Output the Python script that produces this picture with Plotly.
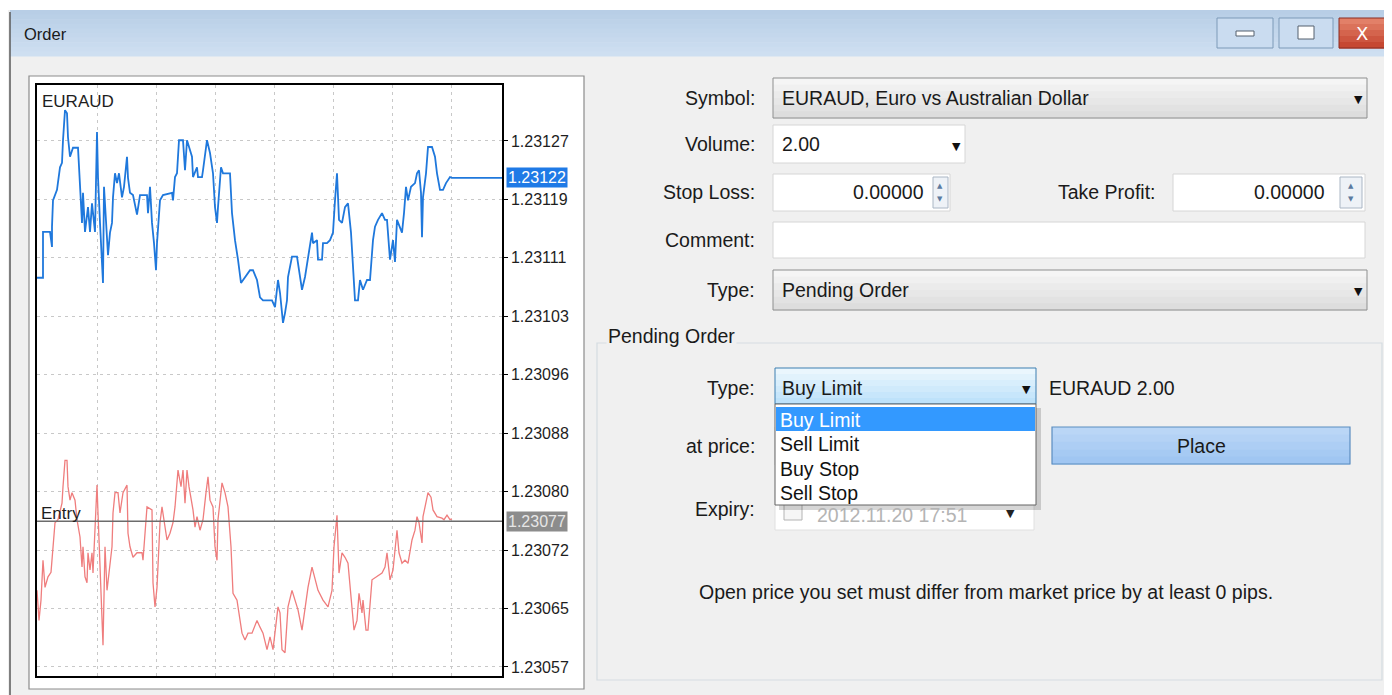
import numpy as np
import plotly.graph_objects as go

# the page adds an 8 px body margin; coordinates below are window pixels shifted by it
PAGE_W, PAGE_H = 1392, 695
OFF = 8
W, H = PAGE_W - OFF, PAGE_H - OFF
FONT = "Liberation Sans, Arial, sans-serif"
SYM = "DejaVu Sans"
FS = 19.5

# ---------------- data ----------------
symbol = "EURAUD"
bid_index = [0, 6, 6, 13, 15, 15, 16, 20, 23, 25, 26, 28, 30, 31, 33, 36, 41, 43, 45, 46,
             48, 51, 53, 55, 58, 60, 61, 63, 65, 66, 67, 70, 71, 73, 75, 76, 78, 80, 82, 85,
             87, 90, 91, 93, 96, 100, 103, 110, 111, 113, 115, 117, 119, 120, 123, 126, 135, 136, 138, 140,
             142, 146, 148, 150, 153, 155, 156, 160, 161, 165, 166, 170, 173, 176, 178, 180, 181, 184, 186, 193,
             195, 198, 201, 204, 213, 216, 220, 223, 226, 235, 238, 241, 243, 246, 248, 250, 251, 255, 260, 263,
             265, 268, 271, 275, 276, 280, 281, 285, 286, 290, 293, 296, 298, 300, 302, 305, 308, 311, 314, 316,
             318, 321, 323, 326, 330, 333, 336, 338, 341, 345, 348, 350, 353, 356, 358, 360, 363, 365, 367, 369,
             371, 374, 378, 380, 382, 384, 385, 386, 389, 391, 395, 398, 400, 403, 406, 409, 413, 415]
bid = [1.231088, 1.231088, 1.231149, 1.231149, 1.231129, 1.231156, 1.231191, 1.231205, 1.231235, 1.231241,
       1.231271, 1.231311, 1.231307, 1.231275, 1.231249, 1.231261, 1.231261, 1.231209, 1.231161, 1.231201,
       1.231149, 1.231182, 1.231149, 1.231187, 1.231149, 1.231282, 1.231222, 1.231161, 1.231109, 1.231081,
       1.231209, 1.231148, 1.231118, 1.231148, 1.231161, 1.231195, 1.231227, 1.231214, 1.231227, 1.231195,
       1.231209, 1.231249, 1.231221, 1.231201, 1.231198, 1.231172, 1.231198, 1.231198, 1.231174, 1.231209,
       1.231161, 1.231134, 1.231098, 1.231134, 1.231191, 1.231198, 1.231201, 1.231191, 1.231222, 1.231227,
       1.231271, 1.231271, 1.231231, 1.231271, 1.231258, 1.231249, 1.231222, 1.231235, 1.231222, 1.231222,
       1.231231, 1.231271, 1.231254, 1.231227, 1.231182, 1.231161, 1.231182, 1.231235, 1.231227, 1.231227,
       1.231174, 1.231138, 1.231112, 1.231081, 1.231098, 1.231098, 1.231085, 1.231062, 1.231058, 1.231058,
       1.231049, 1.231085, 1.231068, 1.231028, 1.231041, 1.231058, 1.231089, 1.231116, 1.231116, 1.231085,
       1.231072, 1.231089, 1.231116, 1.231148, 1.231134, 1.231138, 1.231112, 1.231112, 1.231134, 1.231134,
       1.231138, 1.231148, 1.231191, 1.231227, 1.231165, 1.231161, 1.231182, 1.231187, 1.231148, 1.231108,
       1.231058, 1.231058, 1.231085, 1.231072, 1.231085, 1.231085, 1.231138, 1.231156, 1.231165, 1.231174,
       1.231165, 1.231165, 1.231112, 1.231138, 1.231109, 1.231165, 1.231156, 1.231148, 1.231174, 1.231209,
       1.231191, 1.231209, 1.231214, 1.231227, 1.231231, 1.231201, 1.231142, 1.231195, 1.231227, 1.231262,
       1.231262, 1.231249, 1.231227, 1.231205, 1.231205, 1.231214, 1.231222, 1.231221]
ask_index = [0, 2, 4, 6, 8, 11, 14, 16, 18, 21, 25, 26, 28, 30, 31, 33, 35, 38, 40, 43,
             45, 46, 48, 50, 51, 53, 55, 56, 58, 60, 61, 63, 65, 66, 68, 70, 72, 75, 76, 78,
             81, 83, 86, 90, 91, 93, 96, 100, 105, 106, 110, 115, 116, 118, 120, 123, 125, 127, 130, 133,
             136, 138, 141, 144, 146, 148, 150, 152, 156, 158, 160, 163, 166, 169, 171, 173, 176, 178, 180, 181,
             185, 188, 191, 194, 196, 200, 202, 205, 208, 211, 215, 220, 223, 226, 230, 233, 236, 240, 241, 243,
             245, 248, 251, 255, 258, 261, 265, 268, 271, 275, 278, 281, 286, 291, 295, 297, 300, 302, 305, 308,
             311, 315, 317, 320, 322, 325, 326, 329, 331, 335, 340, 345, 348, 350, 353, 356, 360, 362, 365, 368,
             371, 375, 378, 380, 382, 385, 386, 389, 391, 394, 396, 400, 405, 407, 410, 413, 415]
ask = [1.230672, 1.230632, 1.230659, 1.230712, 1.230676, 1.230690, 1.230696, 1.230730, 1.230762, 1.230766,
       1.230788, 1.230810, 1.230845, 1.230845, 1.230810, 1.230792, 1.230802, 1.230792, 1.230766, 1.230743,
       1.230703, 1.230730, 1.230690, 1.230682, 1.230722, 1.230699, 1.230722, 1.230695, 1.230752, 1.230812,
       1.230775, 1.230712, 1.230642, 1.230599, 1.230730, 1.230672, 1.230695, 1.230730, 1.230775, 1.230802,
       1.230802, 1.230775, 1.230802, 1.230812, 1.230748, 1.230730, 1.230716, 1.230722, 1.230722, 1.230712,
       1.230783, 1.230779, 1.230682, 1.230650, 1.230676, 1.230762, 1.230783, 1.230766, 1.230739, 1.230748,
       1.230762, 1.230783, 1.230832, 1.230810, 1.230832, 1.230788, 1.230832, 1.230810, 1.230779, 1.230756,
       1.230770, 1.230752, 1.230766, 1.230802, 1.230823, 1.230792, 1.230783, 1.230730, 1.230712, 1.230766,
       1.230815, 1.230802, 1.230783, 1.230730, 1.230668, 1.230659, 1.230642, 1.230615, 1.230606, 1.230615,
       1.230615, 1.230632, 1.230623, 1.230615, 1.230593, 1.230610, 1.230593, 1.230637, 1.230650, 1.230642,
       1.230593, 1.230589, 1.230650, 1.230672, 1.230659, 1.230646, 1.230619, 1.230646, 1.230676, 1.230703,
       1.230686, 1.230672, 1.230659, 1.230650, 1.230672, 1.230730, 1.230772, 1.230695, 1.230722, 1.230716,
       1.230708, 1.230655, 1.230619, 1.230632, 1.230668, 1.230642, 1.230659, 1.230619, 1.230619, 1.230686,
       1.230690, 1.230695, 1.230703, 1.230722, 1.230686, 1.230699, 1.230752, 1.230722, 1.230708, 1.230712,
       1.230708, 1.230739, 1.230752, 1.230770, 1.230762, 1.230735, 1.230770, 1.230792, 1.230802, 1.230796,
       1.230779, 1.230770, 1.230768, 1.230766, 1.230772, 1.230766, 1.230767]
y_tick_labels = ["1.23057", "1.23065", "1.23072", "1.23080", "1.23088",
                 "1.23096", "1.23103", "1.23111", "1.23119", "1.23127"]
y_tick_low, y_tick_high = 1.23057, 1.23127
x_grid = [60, 119, 178, 237, 296, 355, 414]
last_bid = 1.231221
last_bid_label = "1.23122"
entry_price = 1.230764
entry_label = "1.23077"

symbol_text = "EURAUD, Euro vs Australian Dollar"
volume_text = "2.00"
stop_loss_text = "0.00000"
take_profit_text = "0.00000"
order_type_text = "Pending Order"
pending_types = ["Buy Limit", "Sell Limit", "Buy Stop", "Sell Stop"]
expiry_text = "2012.11.20 17:51"
note_text = "Open price you set must differ from market price by at least 0 pips."

# ---------------- helpers (window pixel -> paper) ----------------
def X(x):
    return (x - OFF) / W


def Y(y):
    return 1 - (y - OFF) / H


shapes = []
annotations = []


def rect(x0, y0, x1, y1, fill=None, line=None, lw=1):
    shapes.append(dict(type="rect", xref="paper", yref="paper", layer="below",
                       x0=X(x0), x1=X(x1), y0=Y(y1), y1=Y(y0),
                       fillcolor=fill or "rgba(0,0,0,0)",
                       line=dict(color=line or "rgba(0,0,0,0)", width=lw if line else 0)))


def vline(x, y0, y1, color, lw=1):
    shapes.append(dict(type="line", xref="paper", yref="paper", layer="below",
                       x0=X(x), x1=X(x), y0=Y(y0), y1=Y(y1), line=dict(color=color, width=lw)))


def text(s, x, y, size=FS, color="#1a1a1a", anchor="left", family=FONT, bg=None):
    a = dict(text=s, x=X(x), y=Y(y), xref="paper", yref="paper", xanchor=anchor,
             yanchor="middle", showarrow=False, font=dict(family=family, size=size, color=color))
    if bg:
        a["bgcolor"] = bg
    annotations.append(a)


def lerp(c0, c1, t):
    return "rgb(%d,%d,%d)" % tuple(int(round(a + (b - a) * t)) for a, b in zip(c0, c1))


def gradient(x0, y0, x1, y1, c0, c1, n=8):
    step = (y1 - y0) / n
    for i in range(n):
        rect(x0, y0 + i * step, x1, y0 + (i + 1) * step + 0.6, fill=lerp(c0, c1, i / (n - 1)))


def combo(x0, y0, x1, y1, c0, c1, border):
    gradient(x0, y0, x1, y1, c0, c1, n=6)
    rect(x0, y0, x1, y1, line=border, lw=1)


# ---------------- window chrome ----------------
rect(0, 0, PAGE_W, 10, fill="#ffffff")
gradient(10, 10, PAGE_W, 56, (184, 206, 230), (206, 223, 241), n=10)
vline(10, 12, PAGE_H, "#5a5a5a", 1.5)
text("Order", 22, 34, size=16.5, color="#1a1a1a")

# title buttons
rect(1217, 18, 1273, 48, fill="#cadcf0", line="#7d9ab8")
rect(1236, 31, 1254, 36, fill="#ffffff", line="#55606e")
rect(1279, 18, 1333, 48, fill="#cadcf0", line="#7d9ab8")
rect(1298, 26, 1314, 39, fill="#ffffff", line="#55606e")
gradient(1339, 18, PAGE_W, 48, (226, 128, 104), (198, 72, 50), n=5)
rect(1339, 18, PAGE_W, 48, line="#8a2d22")
text("X", 1362, 33, size=18, color="#ffffff", anchor="center", family="DejaVu Sans")

# chart panel
rect(29, 76, 584, 689, fill="#ffffff", line="#8c8c8c", lw=1.2)

# ---------------- form ----------------
labels = [("Symbol:", 757, 98), ("Volume:", 757, 144), ("Stop Loss:", 757, 192),
          ("Take Profit:", 1158, 192), ("Comment:", 757, 240), ("Type:", 757, 290),
          ("Type:", 757, 388), ("at price:", 757, 446), ("Expiry:", 757, 509)]
for s, x, y in labels:
    text(s, x, y, anchor="right")

combo(773, 78, 1367, 118, (245, 245, 245), (221, 221, 221), "#8e8f8f")
text(symbol_text, 780, 98)
text("▼", 1352, 99, size=11, family=SYM, color="#111")

rect(773, 125, 965, 163, fill="#ffffff", line="#d6d6d6")
text(volume_text, 780, 144)
text("▼", 950, 146, size=11, family=SYM, color="#111")

rect(773, 174, 950, 211, fill="#ffffff", line="#d6d6d6")
text(stop_loss_text, 926, 192, anchor="right")
rect(933, 177, 948, 208, fill="#eef2f7", line="#aab6c4")
text("▲", 940.5, 186, size=7, family=SYM, color="#5b7aa0", anchor="center")
text("▼", 940.5, 199, size=7, family=SYM, color="#5b7aa0", anchor="center")

rect(1173, 174, 1365, 211, fill="#ffffff", line="#d6d6d6")
text(take_profit_text, 1327, 192, anchor="right")
rect(1340, 177, 1362, 208, fill="#eef2f7", line="#aab6c4")
text("▲", 1351, 186, size=7, family=SYM, color="#5b7aa0", anchor="center")
text("▼", 1351, 199, size=7, family=SYM, color="#5b7aa0", anchor="center")

rect(773, 222, 1365, 258, fill="#ffffff", line="#d6d6d6")

combo(773, 270, 1367, 310, (245, 245, 245), (221, 221, 221), "#8e8f8f")
text(order_type_text, 780, 290)
text("▼", 1352, 291, size=11, family=SYM, color="#111")

# group box
rect(597, 343, 1382, 680, line="#d5dce2", lw=1.2)
text("Pending Order", 606, 336, bg="#f0f0f0")

combo(775, 368, 1036, 404, (234, 246, 253), (190, 226, 250), "#3c7fb1")
text(pending_types[0], 780, 388)
text("▼", 1020, 389, size=11, family=SYM, color="#111")
text(symbol + " " + volume_text, 1047, 388)

# place button
gradient(1052, 427, 1350, 464, (186, 214, 246), (160, 198, 242), n=5)
rect(1052, 427, 1350, 464, line="#5b8dc0", lw=1.2)
text("Place", 1201, 446, anchor="center")

# at price box (hidden behind list)
rect(775, 427, 1034, 465, fill="#ffffff", line="#d6d6d6")

# expiry box
rect(775, 490, 1034, 530, fill="#ffffff", line="#e0e0e0")
rect(784, 502, 802, 520, fill="#f6f6f6", line="#b4b4b4")
text(expiry_text, 815, 515, color="#b4b4b4")
text("▼", 1004, 513, size=11, family=SYM, color="#222")

# dropdown list
rect(779, 408, 1041, 510, fill="rgba(0,0,0,0.16)")
rect(775, 404, 1036, 505, fill="#ffffff", line="#646464")
rect(776, 407, 1035, 431, fill="#3399ff")
for i, s in enumerate(pending_types):
    text(s, 778, 420 + i * 24.3, color="#ffffff" if i == 0 else "#111111")

text(note_text, 986, 592, anchor="center")

# ---------------- chart ----------------
fig = go.Figure()
fig.add_trace(go.Scatter(x=ask_index, y=ask, mode="lines",
                         line=dict(color="#ef7d7d", width=1.3), hoverinfo="skip"))
fig.add_trace(go.Scatter(x=bid_index, y=bid, mode="lines",
                         line=dict(color="#1f78dc", width=1.8), hoverinfo="skip"))

x_end = 465
shapes.append(dict(type="line", xref="x", yref="y", x0=bid_index[-1], x1=x_end,
                   y0=last_bid, y1=last_bid, line=dict(color="#1f78dc", width=1.7)))
shapes.append(dict(type="line", xref="x domain", yref="y", x0=0, x1=1,
                   y0=entry_price, y1=entry_price, line=dict(color="#6c6c6c", width=1.5)))

annotations.append(dict(text=symbol, xref="x domain", yref="y domain", x=0.006, y=0.992,
                        xanchor="left", yanchor="top", showarrow=False,
                        font=dict(family=FONT, size=17, color="#1e1e1e")))
annotations.append(dict(text="Entry", xref="x domain", yref="y", x=0.004, y=entry_price,
                        xanchor="left", yanchor="bottom", showarrow=False, yshift=-4,
                        font=dict(family=FONT, size=17, color="#1e1e1e")))
annotations.append(dict(text=last_bid_label, xref="paper", yref="y", x=X(506), y=last_bid,
                        xanchor="left", yanchor="middle", showarrow=False, bgcolor="#1f7ae6",
                        borderpad=1, font=dict(family=FONT, size=16, color="#ffffff")))
annotations.append(dict(text=entry_label, xref="paper", yref="y", x=X(506), y=entry_price,
                        xanchor="left", yanchor="middle", showarrow=False, bgcolor="#8c8c8c",
                        borderpad=1, font=dict(family=FONT, size=16, color="#e6e6e6")))

fig.update_layout(
    width=W, height=H,
    margin=dict(l=0, r=0, t=0, b=0),
    paper_bgcolor="#f0f0f0",
    plot_bgcolor="#ffffff",
    showlegend=False,
    shapes=shapes,
    annotations=annotations,
    xaxis=dict(domain=[X(37), X(502)], range=[0, x_end], tickvals=x_grid,
               showticklabels=False, ticks="", showgrid=True, gridcolor="#c8c8c8",
               griddash="3px,4px", gridwidth=1, zeroline=False,
               showline=True, linecolor="#000000", linewidth=1.5, mirror=True, fixedrange=True),
    yaxis=dict(domain=[Y(676), Y(85)], range=[1.230558, 1.2313445],
               tickvals=list(np.linspace(y_tick_low, y_tick_high, len(y_tick_labels))),
               ticktext=y_tick_labels, side="right", ticks="outside", ticklen=4,
               tickcolor="#000000", tickfont=dict(family=FONT, size=16, color="#1e1e1e"),
               showgrid=True, gridcolor="#c8c8c8", griddash="3px,4px", gridwidth=1,
               zeroline=False, showline=True, linecolor="#000000", linewidth=1.5,
               mirror=True, fixedrange=True),
)

fig.write_html("out.html")
